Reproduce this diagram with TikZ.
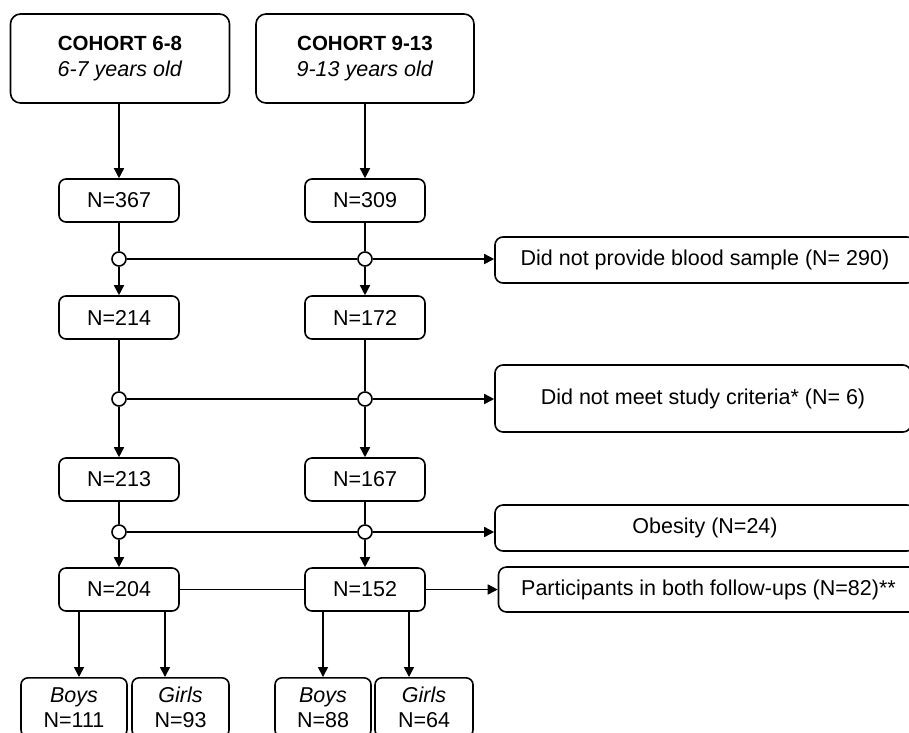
\documentclass[tikz,border=0pt]{standalone}
\usepackage{fontspec}
\setmainfont{Liberation Sans}
\usetikzlibrary{arrows.meta,calc}
\newcommand{\kidstrut}{\rule{0pt}{16pt}}
\begin{document}
\begin{tikzpicture}[x=1pt,y=-1pt,
  font=\fontsize{21.5}{26}\selectfont,
  box/.style={draw, line width=1.6pt, rounded corners=7pt, align=center, inner sep=0pt},
  nbox/.style={box, minimum width=120pt, minimum height=43pt},
  bigbox/.style={box, rounded corners=10pt, minimum width=219pt, minimum height=89pt},
  sidebox/.style={box, rounded corners=8pt, minimum width=420pt},
  kid/.style={box, anchor=north, inner xsep=0pt, inner ysep=9pt, font=\fontsize{21.5}{25}\selectfont},
  junc/.style={circle, draw, fill=white, line width=1.6pt, minimum size=14pt, inner sep=0pt},
  line/.style={line width=1.6pt},
  arr/.style={line, -{Triangle[length=10pt,width=10pt]}},
]
\useasboundingbox (0,0) rectangle (909,732);

% cohort boxes
\node[bigbox] (c1) at (120,58.5) {{\fontsize{20.5}{26}\selectfont\bfseries COHORT 6-8}\\\textit{6-7 years old}};
\node[bigbox, minimum width=218pt] (c2) at (365,58.5) {{\fontsize{20.5}{26}\selectfont\bfseries COHORT 9-13}\\\textit{9-13 years old}};

% counts
\node[nbox] (n367) at (119,200.5) {N=367};
\node[nbox] (n309) at (365,200.5) {N=309};
\node[nbox] (n214) at (119,317.5) {N=214};
\node[nbox] (n172) at (365,317.5) {N=172};
\node[nbox] (n213) at (119,479.5) {N=213};
\node[nbox] (n167) at (365,479.5) {N=167};
\node[nbox] (n204) at (119,589.5) {N=204};
\node[nbox] (n152) at (365,589.5) {N=152};

% side boxes
\node[sidebox, minimum height=46pt] (r1) at (705,260) {Did not provide blood sample (N= 290)};
\node[sidebox, minimum height=67pt, minimum width=416pt] (r2) at (703,398.5) {Did not meet study criteria* (N= 6)};
\node[sidebox, minimum height=46pt] (r3) at (705,528) {Obesity (N=24)};
\node[sidebox, minimum height=45pt] (r4) at (708.5,589.5) {Participants in both follow-ups (N=82)**};

% sex boxes
\node[kid, minimum width=106pt] (b111) at (74,677) {\kidstrut\textit{Boys}\\N=111};
\node[kid, minimum width=97pt] (g93) at (180.5,677) {\kidstrut\textit{Girls}\\N=93};
\node[kid, minimum width=96pt] (b88) at (323,677) {\kidstrut\textit{Boys}\\N=88};
\node[kid, minimum width=98pt] (g64) at (424,677) {\kidstrut\textit{Girls}\\N=64};

% junctions
\node[junc] (j1a) at (119,259) {};
\node[junc] (j1b) at (365,259) {};
\node[junc] (j2a) at (119,399) {};
\node[junc] (j2b) at (365,399) {};
\node[junc] (j3a) at (119,532) {};
\node[junc] (j3b) at (365,532) {};

% connectors
\draw[arr] (c1.south -| n367) -- (n367);
\draw[arr] (c2) -- (n309);

\draw[line] (n367) -- (j1a);
\draw[line] (n309) -- (j1b);
\draw[arr] (j1a) -- (n214);
\draw[arr] (j1b) -- (n172);
\draw[line] (j1a) -- (j1b);
\draw[arr] (j1b) -- (j1b -| r1.west);

\draw[line] (n214) -- (j2a);
\draw[line] (n172) -- (j2b);
\draw[arr] (j2a) -- (n213);
\draw[arr] (j2b) -- (n167);
\draw[line] (j2a) -- (j2b);
\draw[arr] (j2b) -- (j2b -| r2.west);

\draw[line] (n213) -- (j3a);
\draw[line] (n167) -- (j3b);
\draw[arr] (j3a) -- (n204);
\draw[arr] (j3b) -- (n152);
\draw[line] (j3a) -- (j3b);
\draw[arr] (j3b) -- (j3b -| r3.west);

\draw[line] (n204) -- (n152);
\draw[arr] (n152) -- (r4);

\coordinate (s1) at ([xshift=-40pt]n204.south);
\coordinate (s2) at ([xshift=46pt]n204.south);
\coordinate (s3) at ([xshift=-42pt]n152.south);
\coordinate (s4) at ([xshift=44pt]n152.south);
\draw[arr] (s1) -- (s1 |- b111.north);
\draw[arr] (s2) -- (s2 |- g93.north);
\draw[arr] (s3) -- (s3 |- b88.north);
\draw[arr] (s4) -- (s4 |- g64.north);
\end{tikzpicture}
\end{document}
